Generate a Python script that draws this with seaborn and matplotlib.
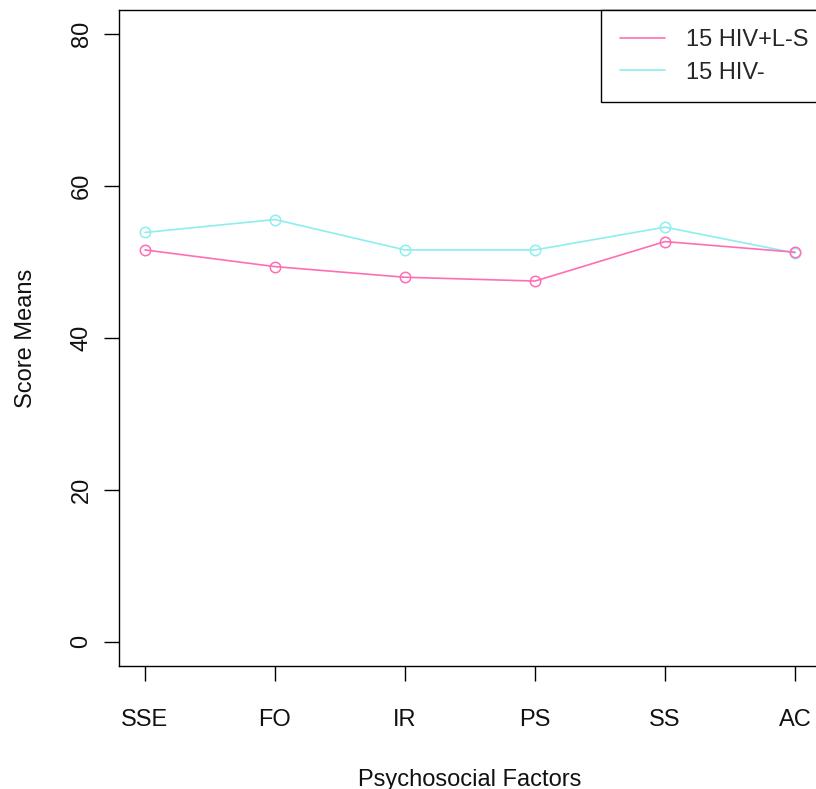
import matplotlib
matplotlib.use("Agg")
import matplotlib.pyplot as plt
import seaborn as sns
import pandas as pd
from matplotlib.lines import Line2D

factors = ["SSE", "FO", "IR", "PS", "SS", "AC"]
hiv_pos_ls = [51.6, 49.4, 48.0, 47.5, 52.7, 51.3]
hiv_neg = [53.9, 55.6, 51.6, 51.6, 54.6, 51.2]
series_names = ["15 HIV+L-S", "15 HIV-"]
colors = ["#FF6EB4", "#8EEEEE"]
yticks = [0, 20, 40, 60, 80]

sns.set_style("white")
plt.rcParams["font.family"] = ["Liberation Sans", "DejaVu Sans"]

rows = []
for i, f in enumerate(factors):
    rows.append({"x": i + 1, "factor": f, "value": hiv_pos_ls[i], "group": series_names[0]})
    rows.append({"x": i + 1, "factor": f, "value": hiv_neg[i], "group": series_names[1]})
df = pd.DataFrame(rows)

fig = plt.figure(figsize=(8.16, 7.89), dpi=100)
ax = fig.add_axes([119 / 816, 123 / 789, 702 / 816, 656 / 789])

palette = dict(zip(series_names, colors))
for name in [series_names[1], series_names[0]]:
    sub = df[df["group"] == name]
    sns.lineplot(data=sub, x="x", y="value", color=palette[name], ax=ax,
                 marker="o", markersize=7.5, markerfacecolor="none",
                 markeredgecolor=palette[name], markeredgewidth=1.1,
                 linewidth=1.2, legend=False)

ax.set_xlim(0.8, 6.2)
ax.set_ylim(-3.2, 83.2)
ax.set_xticks(range(1, len(factors) + 1))
ax.set_xticklabels(factors)
ax.set_yticks(yticks)
ax.set_yticklabels([str(t) for t in yticks], rotation=90, va="center")
ax.tick_params(axis="both", which="major", bottom=True, left=True,
               direction="out", length=11, width=1, color="black",
               labelsize=17, labelcolor="#111111")
ax.tick_params(axis="x", pad=20)
ax.tick_params(axis="y", pad=8)
ax.set_xlabel("Psychosocial Factors", fontsize=17, labelpad=27, color="#111111")
ax.set_ylabel("Score Means", fontsize=17, labelpad=24, color="#111111")
for s in ax.spines.values():
    s.set_color("black")
    s.set_linewidth(1)
    s.set_visible(True)

handles = [Line2D([0], [0], color=c, lw=1.2) for c in colors]
leg = ax.legend(handles, series_names, loc="upper left",
                bbox_to_anchor=((601 - 119) / 702, 1.0), frameon=True,
                fontsize=17, handlelength=1.9, handletextpad=0.9,
                borderpad=0.8, labelspacing=0.45, fancybox=False,
                borderaxespad=0)
leg.get_frame().set_edgecolor("black")
leg.get_frame().set_linewidth(1)
leg.get_frame().set_alpha(1)

fig.savefig("out.png", dpi=100)
